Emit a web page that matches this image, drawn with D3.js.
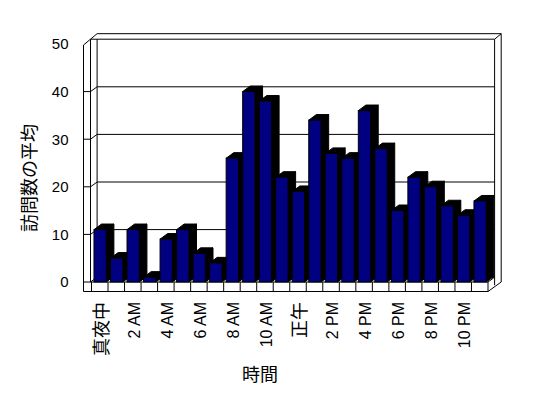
<!DOCTYPE html>
<html>
<head>
<meta charset="utf-8">
<style>
  body { margin: 0; background: #fff; }
  text { fill: #000; }
</style>
</head>
<body>
<svg width="548" height="398"></svg>
<script src="https://d3js.org/d3.v7.min.js"></script>
<script>
// hourly categories (x axis) and average visits per hour
var categories = ["真夜中", "1 AM", "2 AM", "3 AM", "4 AM", "5 AM", "6 AM", "7 AM",
                  "8 AM", "9 AM", "10 AM", "11 AM", "正午", "1 PM", "2 PM", "3 PM",
                  "4 PM", "5 PM", "6 PM", "7 PM", "8 PM", "9 PM", "10 PM", "11 PM"];
var visits = [11, 5, 11, 1, 9, 11, 6, 4, 26, 40, 38, 22,
              19, 34, 27, 26, 36, 28, 15, 22, 20, 16, 14, 17];
var xTickLabels = ["真夜中", "2 AM", "4 AM", "6 AM", "8 AM", "10 AM",
                   "正午", "2 PM", "4 PM", "6 PM", "8 PM", "10 PM"];
var yTicks = [0, 10, 20, 30, 40, 50];
var yTitle = "訪問数の平均";
var xTitle = "時間";

function makeChart() {
    var svg = d3.select("svg");

    var x = d3.scaleBand().domain(categories).range([91.5, 488]).padding(0);
    var y = d3.scaleLinear().domain([0, 50]).range([282, 44]);

    // depth offsets for the pseudo 3d look
    var wall = { dx: 6.6, dy: -4.8 };
    var bar = { dx: 7.6, dy: -5.6 };
    var outerLeft = 83.5, floorBottom = 291.5;
    var innerLeft = 90.5;
    var backLeft = innerLeft + wall.dx, backRight = x.range()[1] + wall.dx;
    var backTop = y(50) + wall.dy;
    var outerTop = backTop + wall.dy * 1.15, outerRight = backRight + wall.dx;

    var line = d3.line();
    var frame = svg.append("g")
        .attr("fill", "none")
        .attr("stroke", "#000")
        .attr("stroke-width", 1);

    function seg(pts) {
        frame.append("path").attr("d", line(pts));
    }

    // walls
    seg([[outerLeft, floorBottom], [outerLeft, y(50) + 1], [innerLeft, backTop]]);
    seg([[innerLeft, backTop], [innerLeft, y(0)]]);
    seg([[innerLeft, backTop], [backLeft, outerTop], [outerRight, outerTop]]);
    seg([[innerLeft, backTop], [backRight, backTop], [outerRight, outerTop]]);
    seg([[backLeft, backTop], [backLeft, y(0) + wall.dy]]);
    seg([[backRight, backTop], [backRight, y(0) + wall.dy + 8]]);
    seg([[outerRight, outerTop], [outerRight, y(0)]]);

    // floor
    seg([[outerLeft, floorBottom], [x.range()[1], floorBottom], [outerRight, y(0)]]);
    seg([[innerLeft, y(0)], [x.range()[1], y(0)], [backRight, y(0) + wall.dy]]);
    seg([[x.range()[1], y(0)], [x.range()[1], floorBottom]]);
    categories.forEach(function(c) {
        seg([[x(c), y(0)], [x(c), floorBottom]]);
    });

    // gridlines + ticks
    yTicks.forEach(function(v) {
        if (v === 50) return;
        seg([[outerLeft, y(v)], [innerLeft, y(v)], [backLeft, y(v) + wall.dy], [backRight, y(v) + wall.dy]]);
    });

    // bars
    var bars = svg.append("g");
    categories.forEach(function(c, i) {
        var v = visits[i];
        var bx = x(c) + x.bandwidth() * 0.15;
        var bw = x.bandwidth() * 0.745;
        var top = y(v), base = y(0);
        var g = bars.append("g");
        g.append("path")
            .attr("d", line([[bx + bw, top], [bx + bw + bar.dx, top + bar.dy],
                             [bx + bw + bar.dx, base + bar.dy], [bx + bw, base]]) + "Z")
            .attr("fill", "#000").attr("stroke", "#000");
        g.append("path")
            .attr("d", line([[bx, top], [bx + bar.dx, top + bar.dy],
                             [bx + bw + bar.dx, top + bar.dy], [bx + bw, top]]) + "Z")
            .attr("fill", "#000").attr("stroke", "#000");
        g.append("rect")
            .attr("x", bx).attr("y", top)
            .attr("width", bw).attr("height", base - top)
            .attr("fill", "#000080")
            .attr("stroke", "#000");
    });

    // y tick labels
    svg.append("g").selectAll("text")
        .data(yTicks)
        .enter().append("text")
        .attr("x", 68.5)
        .attr("y", function(d) { return y(d); })
        .attr("dy", "0.36em")
        .attr("text-anchor", "end")
        .style("font", "15px 'Liberation Sans', sans-serif")
        .text(function(d) { return d; });

    // x tick labels
    svg.append("g").selectAll("text")
        .data(xTickLabels)
        .enter().append("text")
        .attr("transform", function(d) {
            return "translate(" + (x(d) + x.bandwidth() / 2 + 1.5) + ",302) rotate(-90)";
        })
        .attr("dy", "0.36em")
        .attr("text-anchor", "end")
        .style("font-family", "'Liberation Sans', 'Noto Sans CJK JP', sans-serif")
        .style("font-size", function(d) { return /[^\x00-\x7F]/.test(d) ? "18px" : "16px"; })
        .text(function(d) { return d; });

    // axis titles
    svg.append("text")
        .attr("transform", "translate(30,178) rotate(-90)")
        .attr("dy", "0.36em")
        .attr("text-anchor", "middle")
        .style("font", "18px 'Noto Sans CJK JP', sans-serif")
        .text(yTitle);

    svg.append("text")
        .attr("x", 260)
        .attr("y", 375)
        .attr("dy", "0.36em")
        .attr("text-anchor", "middle")
        .style("font", "18px 'Noto Sans CJK JP', sans-serif")
        .text(xTitle);
}

makeChart();
</script>
</body>
</html>
